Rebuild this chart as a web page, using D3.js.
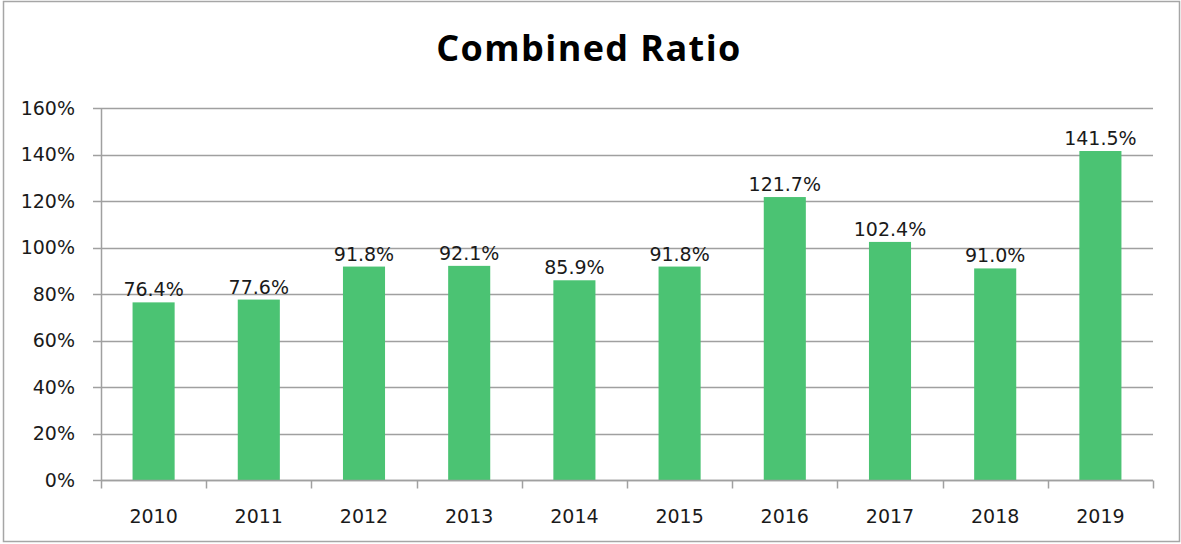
<!DOCTYPE html>
<html>
<head>
<meta charset="utf-8">
<script src="https://cdn.jsdelivr.net/npm/d3@7"></script>
<style>
  body { margin: 0; background: #fff; }
</style>
</head>
<body>
<div id="chart"></div>
<script>
const years = ["2010", "2011", "2012", "2013", "2014", "2015", "2016", "2017", "2018", "2019"];
const ratios = [76.4, 77.6, 91.8, 92.1, 85.9, 91.8, 121.7, 102.4, 91.0, 141.5];
const yTicks = [0, 20, 40, 60, 80, 100, 120, 140, 160];

const width = 1181;
const height = 544;
const margin = {left: 101, right: 28, top: 108, bottom: 64};

const svg = d3.select("#chart")
  .append("svg")
  .attr("width", width)
  .attr("height", height);

// outer frame
svg.append("rect")
  .attr("x", 3.5).attr("y", 1.5)
  .attr("width", width - 5).attr("height", height - 4)
  .attr("fill", "#fff")
  .attr("stroke", "#a6a6a6")
  .attr("stroke-width", 1.5);

const x = d3.scaleBand()
  .domain(years)
  .range([margin.left, width - margin.right])
  .paddingInner(0.6)
  .paddingOuter(0.3);

const y = d3.scaleLinear()
  .domain([0, 160])
  .range([height - margin.bottom, margin.top]);

// gridlines
svg.append("g")
  .selectAll("line")
  .data(yTicks)
  .enter()
  .append("line")
  .attr("x1", margin.left - 8)
  .attr("x2", width - margin.right)
  .attr("y1", d => Math.round(y(d)) + 0.5)
  .attr("y2", d => Math.round(y(d)) + 0.5)
  .attr("stroke", "#a0a0a0")
  .attr("stroke-width", 1.5);

// y labels
svg.append("g")
  .selectAll("text")
  .data(yTicks)
  .enter()
  .append("text")
  .attr("x", margin.left - 26)
  .attr("y", d => y(d))
  .attr("dy", "0.35em")
  .attr("text-anchor", "end")
  .style("font-family", "DejaVu Sans")
  .style("font-size", "19px")
  .attr("fill", "#1a1a1a")
  .text(d => d + "%");

// bars
svg.append("g")
  .selectAll("rect")
  .data(ratios)
  .enter()
  .append("rect")
  .attr("x", (d, i) => x(years[i]))
  .attr("y", d => y(d))
  .attr("width", x.bandwidth())
  .attr("height", d => y(0) - y(d))
  .attr("fill", "#4bc373");

// data labels
svg.append("g")
  .selectAll("text")
  .data(ratios)
  .enter()
  .append("text")
  .attr("x", (d, i) => x(years[i]) + x.bandwidth() / 2)
  .attr("y", d => y(d) - 6)
  .attr("text-anchor", "middle")
  .style("font-family", "DejaVu Sans")
  .style("font-size", "19px")
  .attr("fill", "#1a1a1a")
  .text(d => d.toFixed(1) + "%");

// x axis
const bounds = d3.range(years.length + 1).map(i => margin.left + i * (width - margin.left - margin.right) / years.length);
const axisY = Math.round(y(0)) + 0.5;
svg.append("line")
  .attr("x1", margin.left).attr("x2", width - margin.right)
  .attr("y1", axisY).attr("y2", axisY)
  .attr("stroke", "#a0a0a0").attr("stroke-width", 1.5);
svg.append("line")
  .attr("x1", margin.left + 0.5).attr("x2", margin.left + 0.5)
  .attr("y1", y(160)).attr("y2", axisY + 8)
  .attr("stroke", "#a0a0a0").attr("stroke-width", 1.5);
svg.append("g")
  .selectAll("line")
  .data(bounds.slice(1))
  .enter()
  .append("line")
  .attr("x1", d => Math.round(d) + 0.5).attr("x2", d => Math.round(d) + 0.5)
  .attr("y1", axisY).attr("y2", axisY + 8)
  .attr("stroke", "#a0a0a0").attr("stroke-width", 1.5);

svg.append("g")
  .selectAll("text")
  .data(years)
  .enter()
  .append("text")
  .attr("x", d => x(d) + x.bandwidth() / 2)
  .attr("y", 523)
  .attr("text-anchor", "middle")
  .style("font-family", "DejaVu Sans")
  .style("font-size", "19px")
  .attr("fill", "#1a1a1a")
  .text(d => d);

// title
svg.append("text")
  .attr("x", 589)
  .attr("y", 61)
  .attr("text-anchor", "middle")
  .style("font-family", "Open Sans")
  .style("font-weight", "bold")
  .style("font-size", "36px")
  .style("letter-spacing", "1.4px")
  .attr("fill", "#000")
  .text("Combined Ratio");
</script>
</body>
</html>
